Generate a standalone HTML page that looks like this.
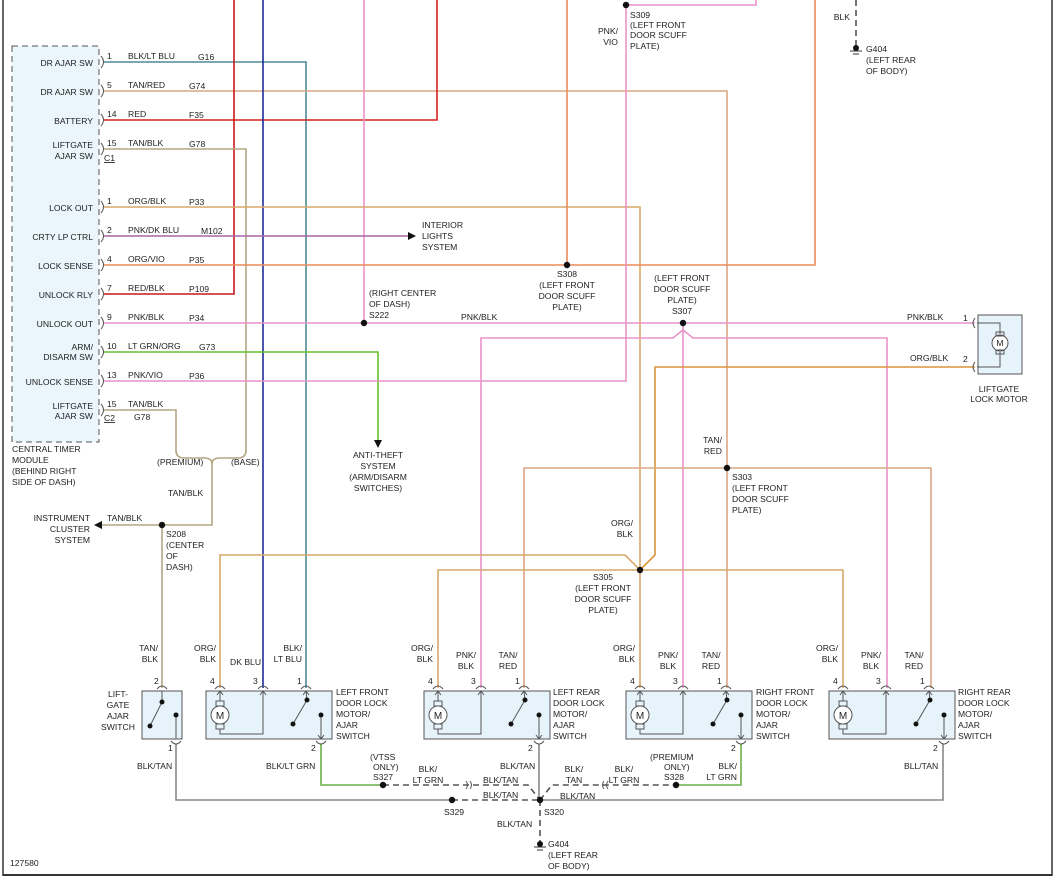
<!DOCTYPE html>
<html><head><meta charset="utf-8"><style>
html,body{margin:0;padding:0;background:#fff}
svg{display:block}
text{font-family:"Liberation Sans",sans-serif;font-size:8.6px;fill:#222}
.r{text-anchor:end}.m{text-anchor:middle}
</style></head><body>
<svg width="1058" height="882" viewBox="0 0 1058 882" xmlns="http://www.w3.org/2000/svg">
<rect width="1058" height="882" fill="#fff"/>
<line x1="3" y1="0" x2="3" y2="876" stroke="#333" stroke-width="1.5"/>
<line x1="1052" y1="0" x2="1052" y2="876" stroke="#333" stroke-width="1.5"/>
<line x1="3" y1="875" x2="1052" y2="875" stroke="#333" stroke-width="2"/>

<!-- module -->
<rect x="12" y="46" width="87" height="396" fill="#eaf6fc" stroke="#555" stroke-dasharray="6,4"/>
<g fill="none" stroke-width="1.6">
<!-- wires -->
<polyline points="104,62 306,62 306,688" stroke="#4f8a96"/>
<polyline points="104,91 727,91 727,688" stroke="#dca584"/>
<polyline points="104,120 437,120 437,0" stroke="#d62020"/>
<polyline points="104,294 234,294 234,0" stroke="#c8181c"/>
<line x1="263" y1="0" x2="263" y2="688" stroke="#1c2c9c"/>
<polyline points="104,149 246,149 246,452" stroke="#b4a584"/>
<polyline points="104,410 176,410 176,452" stroke="#b4a584"/>
<path d="M176,450 Q176,458 184,458 L204,458 Q212,458 212,464 Q212,458 220,458 L238,458 Q246,458 246,450" stroke="#b4a584"/>
<polyline points="212,464 212,525 102,525" stroke="#b4a584"/>
<polyline points="162,525 162,688" stroke="#b4a584"/>
<line x1="364" y1="0" x2="364" y2="323" stroke="#e992c8"/>
<polyline points="104,207 640,207 640,688" stroke="#d9a868"/>
<line x1="104" y1="236" x2="410" y2="236" stroke="#a865a8"/>
<polyline points="104,265 815,265 815,0" stroke="#ee8a5a"/>
<line x1="567" y1="0" x2="567" y2="265" stroke="#ee8a5a"/>
<line x1="104" y1="323" x2="975" y2="323" stroke="#e992c8"/>
<polyline points="104,352 378,352 378,440" stroke="#66c22a"/>
<polyline points="104,381 626,381 626,5 756,5 756,0" stroke="#e992c8"/>
<polyline points="481,688 481,338 673,338 683,330 693,338 887,338 887,688" stroke="#e992c8"/>
<line x1="683" y1="323" x2="683" y2="688" stroke="#e992c8"/>
<polyline points="975,367 655,367 655,555 640,570" stroke="#d9963c"/>
<polyline points="524,688 524,468 931,468 931,688" stroke="#dca584"/>
<polyline points="220,688 220,555 625,555 640,570" stroke="#d9a868"/>
<polyline points="438,688 438,570 843,570 843,688" stroke="#d9a868"/>
<!-- bottom -->
<polyline points="176,744 176,800 452,800" stroke="#888"/>
<line x1="452" y1="800" x2="540" y2="800" stroke="#555" stroke-dasharray="6,4"/>
<polyline points="321,744 321,785 383,785" stroke="#6ab04a"/>
<polyline points="383,785 528,785 540,800" stroke="#555" stroke-dasharray="6,4"/>
<polyline points="540,800 552,785 676,785" stroke="#555" stroke-dasharray="6,4"/>
<polyline points="676,785 741,785 741,744" stroke="#6ab04a"/>
<polyline points="539,744 539,800" stroke="#888"/>
<polyline points="540,800 943,800 943,744" stroke="#888"/>
<line x1="540" y1="800" x2="540" y2="842" stroke="#555" stroke-dasharray="6,4"/>
<line x1="856" y1="0" x2="856" y2="46" stroke="#555" stroke-dasharray="6,4"/>
</g>
<!-- inline connector marks -->
<g fill="none" stroke="#555" stroke-width="1">
<path d="M466,781 q3,4 0,8 M470,781 q3,4 0,8 M604,781 q-3,4 0,8 M608,781 q-3,4 0,8"/>
<path d="M101,56 q5,6 0,12 M101,85 q5,6 0,12 M101,114 q5,6 0,12 M101,143 q5,6 0,12 M101,201 q5,6 0,12 M101,230 q5,6 0,12 M101,259 q5,6 0,12 M101,288 q5,6 0,12 M101,317 q5,6 0,12 M101,346 q5,6 0,12 M101,375 q5,6 0,12 M101,404 q5,6 0,12"/>
</g>
<!-- arrows -->
<polygon points="408,232 416,236 408,240" fill="#111"/>
<polygon points="374,440 382,440 378,448" fill="#111"/>
<polygon points="102,521 94,525 102,529" fill="#111"/>
<!-- dots -->
<g fill="#111">
<circle cx="364" cy="323" r="3.2"/><circle cx="567" cy="265" r="3.2"/><circle cx="683" cy="323" r="3.2"/>
<circle cx="626" cy="5" r="3.2"/><circle cx="727" cy="468" r="3.2"/><circle cx="640" cy="570" r="3.2"/>
<circle cx="162" cy="525" r="3.2"/><circle cx="383" cy="785" r="3.2"/><circle cx="452" cy="800" r="3.2"/>
<circle cx="540" cy="800" r="3.2"/><circle cx="676" cy="785" r="3.2"/>
<circle cx="856" cy="48" r="3"/><circle cx="540" cy="844" r="3"/>
</g>
<g stroke="#333"><line x1="850" y1="51" x2="862" y2="51"/><line x1="853" y1="54" x2="859" y2="54"/>
<line x1="534" y1="847" x2="546" y2="847"/><line x1="537" y1="850" x2="543" y2="850"/></g>

<!-- liftgate lock motor -->
<rect x="978" y="315" width="44" height="59" fill="#e6f3fa" stroke="#555"/>
<g fill="none" stroke="#555"><path d="M975,318 q-4,5 0,10 M975,362 q-4,5 0,10"/>
<polyline points="977,323 1000,323 1000,334"/><polyline points="977,367 1000,367 1000,352"/>
<circle cx="1000" cy="343" r="8" fill="#fff"/><rect x="996" y="332" width="8" height="4"/><rect x="996" y="350" width="8" height="4"/></g>
<text x="1000" y="346" class="m">M</text>

<!-- components -->
<defs>
<g id="mot">
<rect x="0" y="0" width="126" height="48" fill="#e6f3fa" stroke="#555"/>
<g fill="none" stroke="#555">
<path d="M9,-2 q5,-6 10,0 M52,-2 q5,-6 10,0 M95,-2 q5,-6 10,0 M110,50 q5,6 10,0"/>
<path d="M11,4 l3,-4 l3,4 M54,4 l3,-4 l3,4 M97,4 l3,-4 l3,4 M112,44 l3,4 l3,-4"/>
<polyline points="14,0 14,10"/><polyline points="14,38 14,43 57,43 57,0"/>
<circle cx="14" cy="24" r="9" fill="#fff"/><rect x="10" y="10" width="8" height="5"/><rect x="10" y="33" width="8" height="5"/>
<line x1="100" y1="0" x2="101" y2="9"/><line x1="101" y1="9" x2="87" y2="33"/><line x1="115" y1="24" x2="115" y2="48"/>
</g>
<circle cx="101" cy="9" r="2.5" fill="#111"/><circle cx="87" cy="33" r="2.5" fill="#111"/><circle cx="115" cy="24" r="2.5" fill="#111"/>
<text x="14" y="28" class="m" style="font-size:10px">M</text>
</g>
</defs>
<use href="#mot" x="206" y="691"/>
<use href="#mot" x="424" y="691"/>
<use href="#mot" x="626" y="691"/>
<use href="#mot" x="829" y="691"/>
<rect x="142" y="691" width="40" height="48" fill="#e6f3fa" stroke="#555"/>
<g fill="none" stroke="#555"><path d="M157,689 q5,-6 10,0 M171,741 q5,6 10,0"/>
<line x1="162" y1="691" x2="162" y2="702"/><line x1="162" y1="702" x2="150" y2="726"/><line x1="176" y1="715" x2="176" y2="739"/></g>
<circle cx="162" cy="702" r="2.5" fill="#111"/><circle cx="150" cy="726" r="2.5" fill="#111"/><circle cx="176" cy="715" r="2.5" fill="#111"/>

<!-- module labels -->
<g class="r">
<text x="93" y="66" class="r">DR AJAR SW</text><text x="93" y="95" class="r">DR AJAR SW</text><text x="93" y="124" class="r">BATTERY</text>
<text x="93" y="148" class="r">LIFTGATE</text><text x="93" y="159" class="r">AJAR SW</text>
<text x="93" y="211" class="r">LOCK OUT</text><text x="93" y="240" class="r">CRTY LP CTRL</text><text x="93" y="269" class="r">LOCK SENSE</text>
<text x="93" y="298" class="r">UNLOCK RLY</text><text x="93" y="327" class="r">UNLOCK OUT</text>
<text x="93" y="350" class="r">ARM/</text><text x="93" y="360" class="r">DISARM SW</text>
<text x="93" y="385" class="r">UNLOCK SENSE</text><text x="93" y="409" class="r">LIFTGATE</text><text x="93" y="419" class="r">AJAR SW</text>
</g>
<text x="104" y="161" style="text-decoration:underline">C1</text><text x="104" y="421" style="text-decoration:underline">C2</text>
<text x="12" y="452">CENTRAL TIMER</text><text x="12" y="463">MODULE</text><text x="12" y="474">(BEHIND RIGHT</text><text x="12" y="485">SIDE OF DASH)</text>
<!-- row labels -->
<text x="107" y="59">1</text><text x="128" y="59">BLK/LT BLU</text><text x="198" y="60">G16</text>
<text x="107" y="88">5</text><text x="128" y="88">TAN/RED</text><text x="189" y="89">G74</text>
<text x="107" y="117">14</text><text x="128" y="117">RED</text><text x="189" y="118">F35</text>
<text x="107" y="146">15</text><text x="128" y="146">TAN/BLK</text><text x="189" y="147">G78</text>
<text x="107" y="204">1</text><text x="128" y="204">ORG/BLK</text><text x="189" y="205">P33</text>
<text x="107" y="233">2</text><text x="128" y="233">PNK/DK BLU</text><text x="201" y="234">M102</text>
<text x="107" y="262">4</text><text x="128" y="262">ORG/VIO</text><text x="189" y="263">P35</text>
<text x="107" y="291">7</text><text x="128" y="291">RED/BLK</text><text x="189" y="292">P109</text>
<text x="107" y="320">9</text><text x="128" y="320">PNK/BLK</text><text x="189" y="321">P34</text>
<text x="107" y="349">10</text><text x="128" y="349">LT GRN/ORG</text><text x="199" y="350">G73</text>
<text x="107" y="378">13</text><text x="128" y="378">PNK/VIO</text><text x="189" y="379">P36</text>
<text x="107" y="407">15</text><text x="128" y="407">TAN/BLK</text><text x="134" y="420">G78</text>

<text x="422" y="228">INTERIOR</text><text x="422" y="239">LIGHTS</text><text x="422" y="250">SYSTEM</text>
<text x="369" y="296">(RIGHT CENTER</text><text x="369" y="307">OF DASH)</text><text x="369" y="318">S222</text>
<text x="461" y="320">PNK/BLK</text>
<g class="m">
<text x="567" y="277" class="m">S308</text><text x="567" y="288" class="m">(LEFT FRONT</text><text x="567" y="299" class="m">DOOR SCUFF</text><text x="567" y="310" class="m">PLATE)</text>
<text x="682" y="281" class="m">(LEFT FRONT</text><text x="682" y="292" class="m">DOOR SCUFF</text><text x="682" y="303" class="m">PLATE)</text><text x="682" y="314" class="m">S307</text>
<text x="378" y="458" class="m">ANTI-THEFT</text><text x="378" y="469" class="m">SYSTEM</text><text x="378" y="480" class="m">(ARM/DISARM</text><text x="378" y="491" class="m">SWITCHES)</text>
<text x="603" y="580" class="m">S305</text><text x="603" y="591" class="m">(LEFT FRONT</text><text x="603" y="602" class="m">DOOR SCUFF</text><text x="603" y="613" class="m">PLATE)</text>
<text x="999" y="392" class="m">LIFTGATE</text><text x="999" y="402" class="m">LOCK MOTOR</text>
</g>
<text x="630" y="18">S309</text><text x="630" y="28">(LEFT FRONT</text><text x="630" y="38">DOOR SCUFF</text><text x="630" y="49">PLATE)</text>
<text x="618" y="34" class="r">PNK/</text><text x="618" y="45" class="r">VIO</text>
<text x="850" y="20" class="r">BLK</text>
<text x="866" y="52">G404</text><text x="866" y="63">(LEFT REAR</text><text x="866" y="74">OF BODY)</text>
<text x="907" y="320">PNK/BLK</text><text x="963" y="321">1</text>
<text x="910" y="361">ORG/BLK</text><text x="963" y="362">2</text>
<text x="722" y="443" class="r">TAN/</text><text x="722" y="454" class="r">RED</text>
<text x="732" y="480">S303</text><text x="732" y="491">(LEFT FRONT</text><text x="732" y="502">DOOR SCUFF</text><text x="732" y="513">PLATE)</text>
<text x="633" y="526" class="r">ORG/</text><text x="633" y="537" class="r">BLK</text>
<text x="157" y="465">(PREMIUM)</text><text x="231" y="465">(BASE)</text><text x="168" y="496">TAN/BLK</text>
<text x="90" y="521" class="r">INSTRUMENT</text><text x="90" y="532" class="r">CLUSTER</text><text x="90" y="543" class="r">SYSTEM</text>
<text x="107" y="521">TAN/BLK</text>
<text x="166" y="537">S208</text><text x="166" y="548">(CENTER</text><text x="166" y="559">OF</text><text x="166" y="570">DASH)</text>

<!-- component top labels -->
<text x="158" y="651" class="r">TAN/</text><text x="158" y="662" class="r">BLK</text><text x="154" y="684">2</text>
<text x="216" y="651" class="r">ORG/</text><text x="216" y="662" class="r">BLK</text><text x="230" y="665">DK BLU</text>
<text x="302" y="651" class="r">BLK/</text><text x="302" y="662" class="r">LT BLU</text>
<text x="210" y="684">4</text><text x="253" y="684">3</text><text x="297" y="684">1</text>
<g>
<text x="433" y="651" class="r">ORG/</text><text x="433" y="662" class="r">BLK</text>
<text x="466" y="658" class="m">PNK/</text><text x="466" y="669" class="m">BLK</text>
<text x="508" y="658" class="m">TAN/</text><text x="508" y="669" class="m">RED</text>
<text x="428" y="684">4</text><text x="471" y="684">3</text><text x="515" y="684">1</text>
<text x="635" y="651" class="r">ORG/</text><text x="635" y="662" class="r">BLK</text>
<text x="668" y="658" class="m">PNK/</text><text x="668" y="669" class="m">BLK</text>
<text x="711" y="658" class="m">TAN/</text><text x="711" y="669" class="m">RED</text>
<text x="630" y="684">4</text><text x="673" y="684">3</text><text x="717" y="684">1</text>
<text x="838" y="651" class="r">ORG/</text><text x="838" y="662" class="r">BLK</text>
<text x="871" y="658" class="m">PNK/</text><text x="871" y="669" class="m">BLK</text>
<text x="914" y="658" class="m">TAN/</text><text x="914" y="669" class="m">RED</text>
<text x="833" y="684">4</text><text x="876" y="684">3</text><text x="920" y="684">1</text>
</g>
<text x="118" y="697" class="m">LIFT-</text><text x="118" y="708" class="m">GATE</text><text x="118" y="719" class="m">AJAR</text><text x="118" y="730" class="m">SWITCH</text>
<text x="336" y="695">LEFT FRONT</text><text x="336" y="706">DOOR LOCK</text><text x="336" y="717">MOTOR/</text><text x="336" y="728">AJAR</text><text x="336" y="739">SWITCH</text>
<text x="553" y="695">LEFT REAR</text><text x="553" y="706">DOOR LOCK</text><text x="553" y="717">MOTOR/</text><text x="553" y="728">AJAR</text><text x="553" y="739">SWITCH</text>
<text x="756" y="695">RIGHT FRONT</text><text x="756" y="706">DOOR LOCK</text><text x="756" y="717">MOTOR/</text><text x="756" y="728">AJAR</text><text x="756" y="739">SWITCH</text>
<text x="958" y="695">RIGHT REAR</text><text x="958" y="706">DOOR LOCK</text><text x="958" y="717">MOTOR/</text><text x="958" y="728">AJAR</text><text x="958" y="739">SWITCH</text>

<!-- bottom labels -->
<text x="168" y="751">1</text><text x="137" y="769">BLK/TAN</text>
<text x="311" y="751">2</text><text x="266" y="769">BLK/LT GRN</text>
<text x="370" y="760">(VTSS</text><text x="373" y="770">ONLY)</text><text x="373" y="780">S327</text>
<text x="428" y="772" class="m">BLK/</text><text x="428" y="783" class="m">LT GRN</text>
<text x="483" y="783">BLK/TAN</text><text x="483" y="798">BLK/TAN</text>
<text x="528" y="751">2</text><text x="500" y="769">BLK/TAN</text>
<text x="444" y="815">S329</text><text x="544" y="815">S320</text><text x="497" y="827">BLK/TAN</text>
<text x="548" y="847">G404</text><text x="548" y="858">(LEFT REAR</text><text x="548" y="869">OF BODY)</text>
<text x="574" y="772" class="m">BLK/</text><text x="574" y="783" class="m">TAN</text>
<text x="560" y="799">BLK/TAN</text>
<text x="624" y="772" class="m">BLK/</text><text x="624" y="783" class="m">LT GRN</text>
<text x="650" y="760">(PREMIUM</text><text x="664" y="770">ONLY)</text><text x="664" y="780">S328</text>
<text x="737" y="769" class="r">BLK/</text><text x="737" y="780" class="r">LT GRN</text>
<text x="731" y="751">2</text><text x="933" y="751">2</text><text x="904" y="769">BLL/TAN</text>
<text x="10" y="866">127580</text>
</svg>
</body></html>
